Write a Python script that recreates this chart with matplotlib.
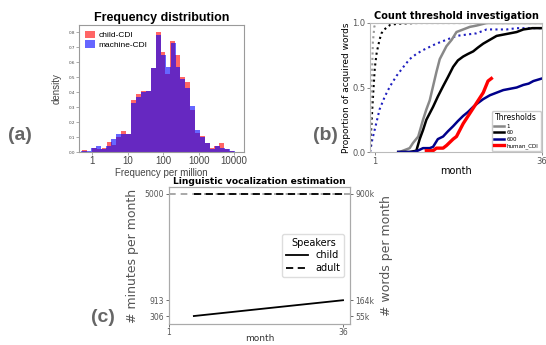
import numpy as np
import matplotlib
matplotlib.use("Agg")
import matplotlib.pyplot as plt
from matplotlib.patches import Patch

# ---------------- data ----------------
# (a) histogram: log10 bin range and bar heights (density)
hist_log_start = -0.28
hist_log_end = 4.0
child_cdi = [0.015, 0.0, 0.025, 0.02, 0.03, 0.07, 0.05, 0.10, 0.14, 0.12,
             0.35, 0.39, 0.41, 0.41, 0.56, 0.80, 0.67, 0.52, 0.74, 0.65,
             0.50, 0.47, 0.28, 0.13, 0.11, 0.06, 0.03, 0.04, 0.06, 0.02, 0.01]
machine_cdi = [0.01, 0.01, 0.03, 0.04, 0.02, 0.04, 0.09, 0.12, 0.12, 0.12,
               0.33, 0.37, 0.40, 0.41, 0.56, 0.78, 0.65, 0.57, 0.73, 0.57,
               0.49, 0.43, 0.31, 0.15, 0.10, 0.06, 0.02, 0.04, 0.03, 0.02, 0.01]
freq_ticks = [1, 10, 100, 1000, 10000]

# (b) count thresholds
dot1_m = [0, 0.3, 0.6, 0.9, 1.2, 2, 36]
dot1_v = [0, 0.45, 0.85, 0.97, 1.0, 1.0, 1.0]
dot60_m = [0, 0.5, 1.0, 1.4, 2.0, 2.4, 3.0, 4.2, 5.0, 6.3, 10, 36]
dot60_v = [0, 0.35, 0.65, 0.77, 0.87, 0.92, 0.95, 0.985, 0.99, 0.995, 1.0, 1.0]
dot600_m = [0, 0.5, 1.36, 2.0, 3.1, 4.2, 5.55, 7.0, 8.3, 9.7, 11.1, 13.9, 16, 18.1,
            20.2, 22.3, 24.4, 26.5, 28.6, 30.7, 32.8, 34.9, 36]
dot600_v = [0, 0.10, 0.23, 0.33, 0.43, 0.51, 0.59, 0.66, 0.72, 0.76, 0.79, 0.84, 0.87,
            0.90, 0.91, 0.92, 0.95, 0.95, 0.95, 0.96, 0.96, 0.96, 0.96]
t1_m = [6.2, 7.6, 8.3, 9.0, 10.1, 11.1, 11.8, 12.5, 13.2, 13.9, 14.6, 16.0, 17.1,
        18.1, 19.5, 20.9, 22.3, 24.4, 26, 30, 36]
t1_v = [0.0, 0.02, 0.03, 0.07, 0.12, 0.25, 0.33, 0.40, 0.51, 0.62, 0.72, 0.82, 0.87,
        0.93, 0.95, 0.97, 0.98, 1.0, 1.0, 1.0, 1.0]
t60_m = [5.9, 8.3, 9.7, 10.4, 11.1, 11.8, 12.5, 13.2, 14.2, 15.3, 16.3, 17.4, 18.4,
         19.5, 20.5, 21.6, 22.6, 23.7, 25.1, 26.5, 27.9, 29.3, 30.7, 32.1, 34, 36]
t60_v = [0.0, 0.0, 0.01, 0.10, 0.17, 0.25, 0.30, 0.35, 0.43, 0.51, 0.58, 0.66, 0.71,
         0.74, 0.76, 0.78, 0.81, 0.84, 0.87, 0.90, 0.91, 0.92, 0.93, 0.95, 0.96, 0.96]
t600_m = [5.9, 9.0, 10.0, 11.1, 12.5, 13.2, 14.2, 15.3, 16.3, 17.4, 18.4, 19.5, 20.5,
          21.6, 22.6, 23.7, 25.1, 26.5, 27.9, 29.3, 30.7, 32.1, 33.2, 34.2, 36]
t600_v = [0.0, 0.0, 0.01, 0.03, 0.03, 0.04, 0.10, 0.12, 0.16, 0.20, 0.24, 0.28, 0.31,
          0.35, 0.38, 0.41, 0.44, 0.46, 0.48, 0.49, 0.50, 0.52, 0.53, 0.55, 0.57]
human_m = [11.8, 13.2, 13.9, 15.3, 16.0, 17.4, 18.1, 18.8, 19.5, 20.2, 20.9, 21.6,
           22.3, 23.0, 23.7, 24.7, 25.4]
human_v = [0.01, 0.01, 0.03, 0.03, 0.05, 0.10, 0.12, 0.17, 0.22, 0.26, 0.30, 0.34,
           0.38, 0.42, 0.46, 0.55, 0.57]
threshold_labels = ["1", "60", "600", "human_CDI"]

# (c) vocalization estimation
voc_months = [6, 36]
child_minutes = [306, 913]
adult_minutes = [5000, 5000]
minute_ticks = [306, 913, 5000]
words_ticks = [55000, 164000, 900000]
words_labels = ["55k", "164k", "900k"]
words_per_minute = 180

# ---------------- figure ----------------
W, H = 546, 345
fig = plt.figure(figsize=(W / 100, H / 100), dpi=100)


def rect(l, t, r, b):
    return [l / W, 1 - b / H, (r - l) / W, (b - t) / H]


LABEL_GRAY = "#666666"
SPINE = "#9a9a9a"

# ---- (a) ----
axa = fig.add_axes(rect(79, 25, 244, 152))
edges_r = 10 ** np.linspace(hist_log_start, hist_log_end, len(child_cdi) + 1)
edges_b = 10 ** np.linspace(hist_log_start - 0.03, hist_log_end + 0.03, len(machine_cdi) + 1)
axa.stairs(child_cdi, edges_r, fill=True, color="#ff0000", alpha=0.6, lw=0)
axa.stairs(machine_cdi, edges_b, fill=True, color="#0000ff", alpha=0.6, lw=0)
axa.set_xscale("log")
axa.set_xlim(10 ** -0.37, 10 ** 4.28)
axa.set_ylim(0, 0.85)
axa.set_xticks(freq_ticks)
axa.set_xticklabels([str(v) for v in freq_ticks], fontsize=7, family="Liberation Sans")
axa.xaxis.set_minor_locator(matplotlib.ticker.NullLocator())
axa.set_yticks(np.arange(0, 0.81, 0.1))
axa.set_yticklabels([f"{v:.1f}" for v in np.arange(0, 0.81, 0.1)], fontsize=3)
axa.tick_params(axis="both", length=2, width=0.5, colors="#888888", pad=1)
for lab in axa.get_xticklabels() + axa.get_yticklabels():
    lab.set_color("#444444")
axa.set_ylabel("density", fontsize=7, color="#444444", family="Liberation Sans", labelpad=5)
axa.set_xlabel("Frequency per million", fontsize=7, color="#444444",
               family="Liberation Sans", labelpad=1)
axa.set_title("Frequency distribution", fontsize=9, fontweight="bold",
              family="Liberation Sans", pad=3)
for s in axa.spines.values():
    s.set_color(SPINE)
    s.set_linewidth(0.8)
axa.legend(handles=[Patch(color="#ff0000", alpha=0.6, lw=0, label="child-CDI"),
                    Patch(color="#0000ff", alpha=0.6, lw=0, label="machine-CDI")],
           loc="upper left", frameon=False, handlelength=1.2,
           handleheight=1.0, handletextpad=0.4, labelspacing=0.1,
           borderaxespad=0.3, prop={"family": "Liberation Sans", "size": 6})

# ---- (b) ----
axb = fig.add_axes(rect(370, 23, 542, 152))
axb.plot(dot600_m, dot600_v, color="#2020c0", ls=(0, (1, 1.6)), lw=1.5)
axb.plot(dot60_m, dot60_v, color="black", ls=(0, (1, 1.6)), lw=1.5)
axb.plot(dot1_m, dot1_v, color="#999999", ls=(0, (1, 1.6)), lw=1.5)
axb.plot(t1_m, t1_v, color="#888888", lw=1.8, label=threshold_labels[0])
axb.plot(t60_m, t60_v, color="black", lw=1.8, label=threshold_labels[1])
axb.plot(t600_m, t600_v, color="#00008b", lw=1.8, label=threshold_labels[2])
axb.plot(human_m, human_v, color="#ff0000", lw=2.4, label=threshold_labels[3])
axb.set_xlim(0, 36)
axb.set_ylim(0, 1.0)
axb.set_xticks([1, 36])
axb.set_yticks([0, 0.5, 1.0])
axb.set_yticklabels(["0.0", "0.5", "1.0"])
axb.tick_params(axis="both", labelsize=6, length=2, width=0.5, colors="#555555", pad=1.5)
axb.set_xlabel("month", fontsize=7, labelpad=0)
axb.set_ylabel("Proportion of acquired words", fontsize=6.5, labelpad=1)
axb.set_title("Count threshold investigation", fontsize=7, fontweight="bold", pad=3)
for s in axb.spines.values():
    s.set_color("#bbbbbb")
    s.set_linewidth(0.8)
axb.legend(title="Thresholds", loc="lower right", fontsize=4,
           title_fontsize=5.5, handlelength=1.8, handletextpad=0.5, labelspacing=0.25,
           borderpad=0.35, borderaxespad=0.25, framealpha=1, edgecolor="#cccccc")

# ---- (c) ----
axc = fig.add_axes(rect(169, 187, 350, 324))
axc.axhline(adult_minutes[0], color="#999999", ls=(0, (4, 3)), lw=1.2)
axc.plot(voc_months, child_minutes, color="black", lw=1.3, label="child")
axc.plot(voc_months, adult_minutes, color="black", ls=(0, (4, 2.5)), lw=1.3, label="adult")
axc.set_xlim(1, 37.4)
axc.set_ylim(0, 5260)
axc.set_xticks([1, 36])
axc.set_yticks(minute_ticks)
axc.tick_params(axis="both", labelsize=5.5, length=2.5, width=0.6, colors="#555555", pad=1)
axc.tick_params(axis="x", pad=0.5)
axc.set_xlabel("month", fontsize=6.5, color="#333333")
axc.xaxis.set_label_coords(0.5, -0.07)
axc.set_ylabel("# minutes per month", fontsize=9, color="#555555", labelpad=4)
axc.set_title("Linguistic vocalization estimation", fontsize=6.6, fontweight="bold", pad=2)
for s in axc.spines.values():
    s.set_color("#aaaaaa")
    s.set_linewidth(0.8)
axc2 = axc.twinx()
axc2.set_ylim(0, 5260 * words_per_minute)
axc2.set_yticks(words_ticks)
axc2.set_yticklabels(words_labels)
axc2.tick_params(axis="y", labelsize=5.5, length=2.5, width=0.6, colors="#555555", pad=1.5)
axc2.set_ylabel("# words per month", fontsize=9, color="#555555", labelpad=4)
for s in axc2.spines.values():
    s.set_color("#aaaaaa")
    s.set_linewidth(0.8)
axc.legend(title="Speakers", loc="center right", fontsize=7, title_fontsize=7,
           handlelength=2.2, labelspacing=0.3, borderpad=0.4,
           bbox_to_anchor=(0.995, 0.50), framealpha=1, edgecolor="#dddddd")

# ---- panel labels ----
for txt, x, y in [("(a)", 20, 135), ("(b)", 325, 135), ("(c)", 103, 318)]:
    fig.text(x / W, 1 - y / H, txt, fontsize=14, fontweight="bold", color=LABEL_GRAY,
             family="Liberation Sans", ha="center", va="center")

fig.savefig("out.png", dpi=100)
